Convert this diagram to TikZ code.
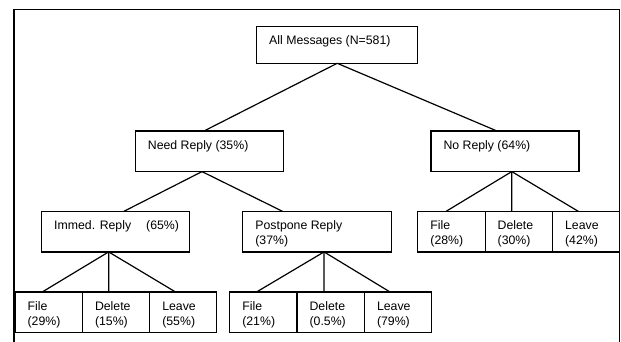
\documentclass[tikz,border=0pt]{standalone}
\usepackage{fontspec}
\setmainfont{Liberation Sans}
\begin{document}
\begin{tikzpicture}[x=1pt,y=-1pt,line width=1.2pt,
  bx/.style={draw=black,rectangle,anchor=north west,inner sep=0pt,outer sep=0pt,minimum height=40.6pt},
  tx/.style={anchor=base west,inner sep=0pt,align=left,font=\fontsize{12.3}{15}\selectfont},
  ln/.style={draw=black,line width=1.2pt}]
\useasboundingbox (0,0) rectangle (621,342);
\draw[line width=1.3pt] (14,342) -- (14,9.5) -- (619.8,9.5) -- (619.8,342);
% level 0
\node[bx,minimum width=161.2pt,minimum height=36.6pt] (root) at (256.6,26.7) {};
\node[tx] (rootT) at ([shift={(12pt,-17.5pt)}]root.north west) {All Messages (N=581)};
% level 1
\node[bx,minimum width=147.8pt] (need) at (135.8,131) {};
\node[tx] (needT) at ([shift={(11.5pt,-18.5pt)}]need.north west) {Need Reply (35\%)};
\node[bx,minimum width=148.1pt] (nor) at (430.9,131) {};
\node[tx] (norT) at ([shift={(12pt,-18.5pt)}]nor.north west) {No Reply (64\%)};
% level 2
\node[bx,minimum width=147.7pt] (imm) at (41.6,211.3) {};
\node[tx] (immT) at ([shift={(12pt,-18.5pt)}]imm.north west) {Immed. Reply\hspace{15pt}(65\%)};
\node[bx,minimum width=148.5pt] (post) at (242.8,211.3) {};
\node[tx] (postT) at ([shift={(12pt,-33.5pt)}]post.north west) {Postpone Reply\\(37\%)};
% No reply leaves
\node[bx,minimum width=67.3pt] (nf) at (417.8,211.3) {};
\node[bx,minimum width=67.4pt] (nd) at (485.1,211.3) {};
\node[bx,minimum width=67.3pt] (nl) at (552.5,211.3) {};
\node[tx] (nfT) at ([shift={(12pt,-33.5pt)}]nf.north west) {File\\(28\%)};
\node[tx] (ndT) at ([shift={(12pt,-33.5pt)}]nd.north west) {Delete\\(30\%)};
\node[tx] (nlT) at ([shift={(12pt,-33.5pt)}]nl.north west) {Leave\\(42\%)};
% Immed leaves
\node[bx,minimum width=67.4pt] (if) at (15,292) {};
\node[bx,minimum width=67.3pt] (id) at (82.4,292) {};
\node[bx,minimum width=66.9pt] (il) at (149.7,292) {};
\node[tx] (ifT) at ([shift={(12pt,-33.5pt)}]if.north west) {File\\(29\%)};
\node[tx] (idT) at ([shift={(12pt,-33.5pt)}]id.north west) {Delete\\(15\%)};
\node[tx] (ilT) at ([shift={(12pt,-33.5pt)}]il.north west) {Leave\\(55\%)};
% Postpone leaves
\node[bx,minimum width=67.3pt] (pf) at (229.7,292) {};
\node[bx,minimum width=67.4pt] (pd) at (297,292) {};
\node[bx,minimum width=67.3pt] (pl) at (364.4,292) {};
\node[tx] (pfT) at ([shift={(12pt,-33.5pt)}]pf.north west) {File\\(21\%)};
\node[tx] (pdT) at ([shift={(12pt,-33.5pt)}]pd.north west) {Delete\\(0.5\%)};
\node[tx] (plT) at ([shift={(12pt,-33.5pt)}]pl.north west) {Leave\\(79\%)};
% connectors
\draw[ln] (root.south) -- ([xshift=-5.7pt]need.north);
\draw[ln] (root.south) -- ([xshift=-8pt]nor.north);
\draw[ln] ([xshift=-7.7pt]need.south) -- ([xshift=8.5pt]imm.north);
\draw[ln] ([xshift=-7.7pt]need.south) -- ([xshift=-34.6pt]post.north);
\draw[ln] ([xshift=-6.8pt]imm.south) -- ([xshift=-6.5pt]if.north);
\draw[ln] ([xshift=-6.8pt]imm.south) -- ([xshift=-7.2pt]id.north);
\draw[ln] ([xshift=-6.8pt]imm.south) -- ([xshift=-7.6pt]il.north);
\draw[ln] ([xshift=7pt]post.south) -- ([xshift=-6.8pt]pf.north);
\draw[ln] ([xshift=7pt]post.south) -- ([xshift=-6.7pt]pd.north);
\draw[ln] ([xshift=7pt]post.south) -- ([xshift=-8pt]pl.north);
\draw[ln] ([xshift=6.8pt]nor.south) -- ([xshift=-5.3pt]nf.north);
\draw[ln] ([xshift=6.8pt]nor.south) -- ([xshift=-7pt]nd.north);
\draw[ln] ([xshift=6.8pt]nor.south) -- ([xshift=-7.9pt]nl.north);
\end{tikzpicture}
\end{document}
